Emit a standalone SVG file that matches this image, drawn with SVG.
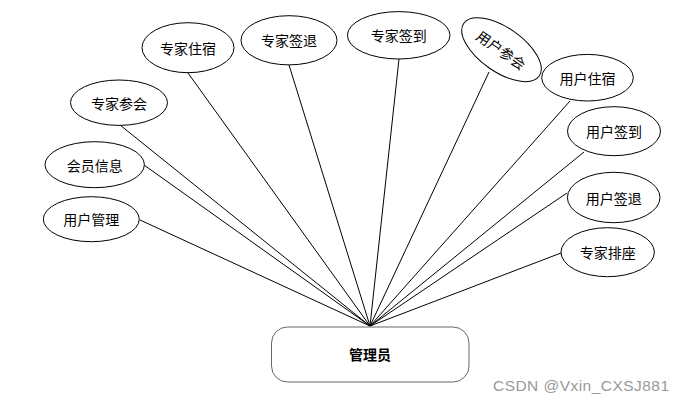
<svg xmlns="http://www.w3.org/2000/svg" width="685" height="403" viewBox="0 0 685 403">
<style>
.n ellipse{fill:#fff;stroke:#000;stroke-width:1}
.t{font-family:"Noto Sans CJK SC","Liberation Sans",sans-serif;font-size:14px;fill:#000;text-anchor:middle;dominant-baseline:central}
#edges line{stroke:#000;stroke-width:1}
</style>
<rect width="685" height="403" fill="#fff"/>
<g id="edges">
<line x1="188" y1="73" x2="370" y2="326"/>
<line x1="289" y1="65" x2="370" y2="326"/>
<line x1="120" y1="125" x2="370" y2="326"/>
<line x1="399" y1="59" x2="370" y2="326"/>
<line x1="489" y1="72" x2="370" y2="326"/>
<line x1="570" y1="101" x2="370" y2="326"/>
<line x1="584" y1="152" x2="370" y2="326"/>
<line x1="144" y1="165" x2="370" y2="326"/>
<line x1="140" y1="220" x2="370" y2="326"/>
<line x1="567" y1="193" x2="370" y2="326"/>
<line x1="561" y1="253" x2="370" y2="326"/>
</g>
<g id="admin">
<rect x="271.5" y="327" width="197.5" height="55" rx="16" fill="#fff" stroke="#666" stroke-width="1"/>
<text class="t" x="370" y="354" style="font-weight:bold">管理员</text>
</g>
<g id="zjzs" class="n"><ellipse cx="188" cy="47.7" rx="46" ry="25"/><text class="t" x="188" y="47.7">专家住宿</text></g>
<g id="zjqt" class="n"><ellipse cx="289" cy="40.3" rx="48" ry="24.6"/><text class="t" x="289" y="40.3">专家签退</text></g>
<g id="zjch" class="n"><ellipse cx="119" cy="102.7" rx="48.5" ry="22.7"/><text class="t" x="119" y="102.7">专家参会</text></g>
<g id="zjqd" class="n"><ellipse cx="398.7" cy="35.3" rx="51.3" ry="23.7"/><text class="t" x="398.7" y="35.3">专家签到</text></g>
<g id="yhch" class="n" transform="translate(501.5,49.7) rotate(35)"><ellipse cx="0" cy="0" rx="46" ry="22"/><text class="t" x="0" y="0">用户参会</text></g>
<g id="yhzs" class="n"><ellipse cx="587.5" cy="77.7" rx="45.8" ry="23.3"/><text class="t" x="587.5" y="77.7">用户住宿</text></g>
<g id="yhqd" class="n"><ellipse cx="614" cy="131.2" rx="46.5" ry="24.5"/><text class="t" x="614" y="131.2">用户签到</text></g>
<g id="hyxx" class="n"><ellipse cx="94.7" cy="164.7" rx="49.7" ry="23"/><text class="t" x="94.7" y="164.7">会员信息</text></g>
<g id="yhgl" class="n"><ellipse cx="91.3" cy="219.2" rx="48" ry="22.5"/><text class="t" x="91.3" y="219.2">用户管理</text></g>
<g id="yhqt" class="n"><ellipse cx="613.7" cy="197.5" rx="46.3" ry="25.2"/><text class="t" x="613.7" y="197.5">用户签退</text></g>
<g id="zjpz" class="n"><ellipse cx="607.7" cy="252.2" rx="46.7" ry="24.5"/><text class="t" x="607.7" y="252.2">专家排座</text></g>
<text x="493" y="391" font-family="Liberation Sans, sans-serif" font-size="15.5" fill="#999" textLength="176">CSDN @Vxin_CXSJ881</text>
</svg>
